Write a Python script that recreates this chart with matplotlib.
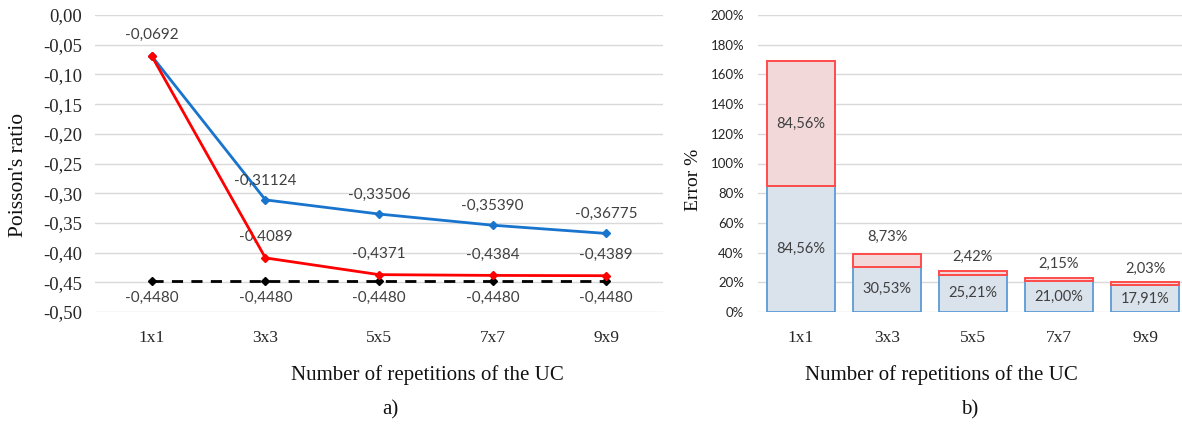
import matplotlib
matplotlib.use("Agg")
import matplotlib.pyplot as plt
import numpy as np

categories = ["1x1", "3x3", "5x5", "7x7", "9x9"]
blue_vals = [-0.0692, -0.31124, -0.33506, -0.35390, -0.36775]
red_vals = [-0.0692, -0.4089, -0.4371, -0.4384, -0.4389]
ref_vals = [-0.4480, -0.4480, -0.4480, -0.4480, -0.4480]
blue_labels = ["", "-0,31124", "-0,33506", "-0,35390", "-0,36775"]
red_labels = ["-0,0692", "-0,4089", "-0,4371", "-0,4384", "-0,4389"]
ref_labels = ["-0,4480"] * 5
yticks_a = [0.0, -0.05, -0.10, -0.15, -0.20, -0.25, -0.30, -0.35, -0.40, -0.45, -0.50]

err_blue = [84.56, 30.53, 25.21, 21.00, 17.91]
err_red = [84.56, 8.73, 2.42, 2.15, 2.03]
yticks_b = [0, 20, 40, 60, 80, 100, 120, 140, 160, 180, 200]

W, H = 1182, 425
fig = plt.figure(figsize=(W / 100, H / 100), dpi=100)

serif = "Liberation Serif"
sans = "Lato"
grid_c = "#D9D9D9"
lab_c = "#404040"

def px_axes(l, r, t, b):
    return fig.add_axes([l / W, 1 - b / H, (r - l) / W, (b - t) / H])

# ---- (a) ----
ax = px_axes(95, 663, 15, 312)
x = np.arange(len(categories))
ax.plot(x, blue_vals, color="#1874CD", lw=2, marker="D", ms=4, clip_on=False, zorder=3)
ax.plot(x, red_vals, color="#FF0000", lw=2, marker="D", ms=4, clip_on=False, zorder=4)
ax.plot(x, ref_vals, color="black", lw=2, ls=(0, (4, 3)), marker="D", ms=4, clip_on=False, zorder=3)
ax.set_xlim(-0.5, 4.5)
ax.set_ylim(-0.5, 0.0)
ax.set_yticks(yticks_a)
ax.set_yticklabels([("%.2f" % v).replace(".", ",") for v in yticks_a], fontfamily=serif, fontsize=13.5, color="#262626")
ax.set_xticks(x)
ax.set_xticklabels(categories, fontfamily=serif, fontsize=12.5, color="#262626")
ax.tick_params(length=0)
ax.tick_params(axis="y", pad=9)
ax.tick_params(axis="x", pad=13)
ax.grid(axis="y", color=grid_c, lw=1)
ax.set_axisbelow(True)
for s in ax.spines.values():
    s.set_visible(False)
for i in range(5):
    if blue_labels[i]:
        ax.annotate(blue_labels[i], (x[i], blue_vals[i]), xytext=(0, 14), textcoords="offset points",
                    ha="center", va="center", fontfamily=sans, fontsize=11, color=lab_c)
    ax.annotate(red_labels[i], (x[i], red_vals[i]), xytext=(0, 15), textcoords="offset points",
                ha="center", va="center", fontfamily=sans, fontsize=11, color=lab_c)
    ax.annotate(ref_labels[i], (x[i], ref_vals[i]), xytext=(0, -12), textcoords="offset points",
                ha="center", va="center", fontfamily=sans, fontsize=11, color=lab_c)

# ---- (b) ----
bx = px_axes(758, 1182, 15, 312)
bx.bar(x, err_blue, width=0.78, color="#DAE2EC", edgecolor="#5B9BD5", lw=1.3, zorder=2)
bx.bar(x, err_red, width=0.78, bottom=err_blue, color="#F3D8DA", edgecolor="#FF4B4B", lw=1.4, zorder=2)
bx.set_xlim(-0.5, 4.43)
bx.set_ylim(0, 200)
bx.set_yticks(yticks_b)
bx.set_yticklabels(["%d%%" % v for v in yticks_b], fontfamily=sans, fontsize=9.5, color="#262626")
bx.set_xticks(x)
bx.set_xticklabels(categories, fontfamily=serif, fontsize=12.5, color="#262626")
bx.tick_params(length=0)
bx.tick_params(axis="y", pad=10)
bx.tick_params(axis="x", pad=13)
bx.grid(axis="y", color=grid_c, lw=1)
bx.set_axisbelow(True)
for s in bx.spines.values():
    s.set_visible(False)
for i in range(5):
    bx.text(x[i], err_blue[i] / 2, ("%.2f%%" % err_blue[i]).replace(".", ","), ha="center", va="center",
            fontfamily=sans, fontsize=10.5, color=lab_c)
    top = err_blue[i] + err_red[i]
    if i == 0:
        bx.text(x[i], err_blue[i] + err_red[i] / 2, ("%.2f%%" % err_red[i]).replace(".", ","), ha="center",
                va="center", fontfamily=sans, fontsize=10.5, color=lab_c)
    else:
        bx.annotate(("%.2f%%" % err_red[i]).replace(".", ","), (x[i], top), xytext=(0, 10 if i > 1 else 12),
                    textcoords="offset points", ha="center", va="center", fontfamily=sans,
                    fontsize=10.5, color=lab_c)

# ---- titles / labels ----
fig.text(19 / W, 1 - 175 / H, "Poisson's ratio", rotation=90, ha="center", va="center",
         fontfamily=serif, fontsize=15.5, color="#111111")
fig.text(693 / W, 1 - 180 / H, "Error %", rotation=90, ha="center", va="center",
         fontfamily=serif, fontsize=14, color="#111111")
fig.text(427 / W, 1 - 375 / H, "Number of repetitions of the UC", ha="center", va="center",
         fontfamily=serif, fontsize=15, color="#111111")
fig.text(941 / W, 1 - 375 / H, "Number of repetitions of the UC", ha="center", va="center",
         fontfamily=serif, fontsize=15, color="#111111")
fig.text(390 / W, 1 - 410 / H, "a)", ha="center", va="center", fontfamily=serif, fontsize=15, color="#111111")
fig.text(970 / W, 1 - 410 / H, "b)", ha="center", va="center", fontfamily=serif, fontsize=15, color="#111111")

fig.savefig("out.png", dpi=100)
